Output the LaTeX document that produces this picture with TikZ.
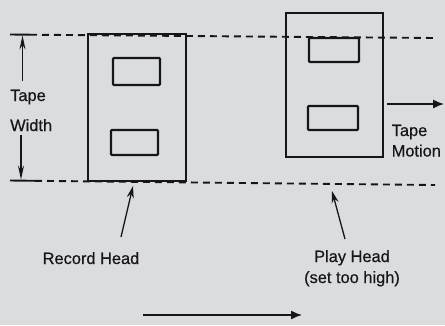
\documentclass[tikz,border=0pt]{standalone}
\usepackage{fontspec}
\setmainfont{Liberation Sans}[FakeBold=0.5]
\usetikzlibrary{arrows.meta}
\definecolor{bg}{RGB}{219,220,222}
\definecolor{ink}{RGB}{22,22,24}
\tikzset{
  headbox/.style={draw=ink, line width=2.1pt, rectangle, inner sep=0pt},
  gapbox/.style={draw=ink, line width=2.1pt, rectangle, inner sep=0pt, rounded corners=0.8pt},
  tapeedge/.style={draw=ink, line width=1.9pt, dash pattern=on 7pt off 5pt},
  solidedge/.style={draw=ink, line width=1.9pt},
  dimarrow/.style={draw=ink, line width=1.3pt, -{Stealth[length=14pt,width=6pt]}},
  pointer/.style={draw=ink, line width=1.3pt, -{Stealth[length=12pt,width=7pt]}},
  motion/.style={draw=ink, line width=1.4pt, -{Latex[length=11pt,width=9pt]}},
  lbl/.style={text=ink, font=\fontsize{16.4}{21}\selectfont, inner sep=0pt}
}
\begin{document}
\begin{tikzpicture}[x=1pt,y=-1pt]
\fill[bg] (0,0) rectangle (445,325);
\useasboundingbox (0,0) rectangle (445,325);

% tape edges
\coordinate (tl) at (10,34.5);
\coordinate (tm) at (30,34.7);
\coordinate (tr) at (435,38);
\coordinate (bl) at (10,180.5);
\coordinate (bm) at (35,180.8);
\coordinate (br) at (435,185);
\draw[solidedge] (tl) -- (tm);
\draw[tapeedge] (tm) -- (tr);
\draw[solidedge] (bl) -- (bm);
\draw[tapeedge] (bm) -- (br);

% record head
\node[headbox, minimum width=98pt, minimum height=147pt] (rec) at (137,107.5) {};
\node[gapbox, minimum width=47pt, minimum height=27pt] (recgap1) at (136.5,71.5) {};
\node[gapbox, minimum width=47pt, minimum height=25pt] (recgap2) at (134.5,142.5) {};

% play head
\node[headbox, minimum width=97pt, minimum height=144pt] (play) at (334.5,85) {};
\node[gapbox, minimum width=50pt, minimum height=24pt] (playgap1) at (334,50) {};
\node[gapbox, minimum width=50pt, minimum height=24pt] (playgap2) at (333,118) {};

% tape width dimension
\node[lbl, anchor=base west] (tape) at (10,101) {Tape};
\node[lbl, anchor=base west] (width) at (10,131) {Width};
\coordinate (uptop) at (22.5,35.5);
\coordinate (upbot) at (22.5,81);
\coordinate (dntop) at (21,135);
\coordinate (dnbot) at (21,179.5);
\draw[dimarrow] (upbot) -- (uptop);
\draw[dimarrow] (dntop) -- (dnbot);

% tape motion
\coordinate (mstart) at (387,104);
\coordinate (mend) at (444,104);
\draw[motion] (mstart) -- (mend);
\node[lbl, anchor=base west] (tm1) at (391.5,136) {Tape};
\node[lbl, anchor=base west] (tm2) at (391.5,156.5) {Motion};

% labels and pointers
\node[lbl, anchor=base] (reclbl) at (91,264) {Record Head};
\node[lbl, anchor=base] (playlbl) at (352,262) {Play Head};
\node[lbl, anchor=base] (playlbl2) at (352,283) {(set too high)};
\coordinate (rp1) at (121,237);
\coordinate (rp2) at (133,186);
\coordinate (pp1) at (345,239);
\coordinate (pp2) at (332,191);
\draw[pointer] (rp1) -- (rp2);
\draw[pointer] (pp1) -- (pp2);

% bottom direction arrow
\coordinate (ba1) at (143,315);
\coordinate (ba2) at (302,315);
\draw[motion] (ba1) -- (ba2);
\end{tikzpicture}
\end{document}
